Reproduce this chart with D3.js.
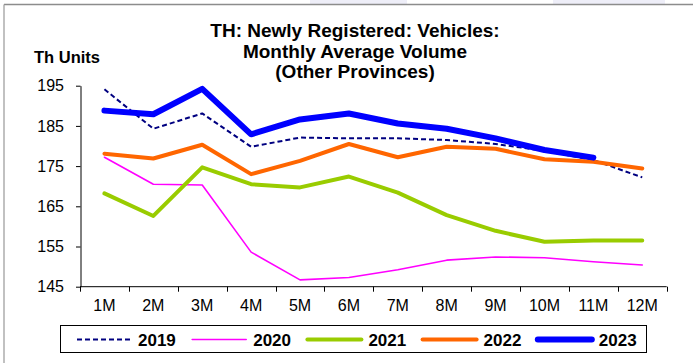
<!DOCTYPE html>
<html>
<head>
<meta charset="utf-8">
<script src="https://cdn.jsdelivr.net/npm/d3@7/dist/d3.min.js"></script>
<style>
  html, body { margin: 0; padding: 0; background: #fff; }
  svg { display: block; font-family: "Liberation Sans", Arial, sans-serif; }
</style>
</head>
<body>
<svg id="chart" width="693" height="363"></svg>
<script>
// Monthly average volume of newly registered vehicles, other provinces (thousand units)
const months = ["1M","2M","3M","4M","5M","6M","7M","8M","9M","10M","11M","12M"];
const years = ["2019","2020","2021","2022","2023"];
const v2019 = [194.1, 184.3, 188.1, 179.8, 182.1, 181.9, 181.9, 181.5, 180.5, 178.8, 176.5, 172.2];
const v2020 = [177.2, 170.5, 170.3, 153.6, 146.7, 147.3, 149.2, 151.6, 152.4, 152.2, 151.2, 150.4];
const v2021 = [168.2, 162.6, 174.7, 170.5, 169.7, 172.4, 168.4, 162.8, 158.9, 156.2, 156.5, 156.5];
const v2022 = [178.1, 176.9, 180.3, 173.0, 176.3, 180.5, 177.2, 179.8, 179.3, 176.7, 176.1, 174.4];
const v2023 = [188.8, 187.9, 194.2, 182.9, 186.6, 188.1, 185.6, 184.3, 181.9, 179.0, 177.1, null];
const yTicks = [145, 155, 165, 175, 185, 195];

const seriesValues = [v2019, v2020, v2021, v2022, v2023];
const styles = [
  { color: "#000080", width: 2,   dash: "5,3" },
  { color: "#ff00ff", width: 1.6, dash: null },
  { color: "#99cc00", width: 4,   dash: null },
  { color: "#ff6600", width: 4,   dash: null },
  { color: "#0000ff", width: 6,   dash: null }
];

const svg = d3.select("#chart");

// faint backdrop shapes along the top edge
svg.append("rect").attr("x", 310).attr("y", 0).attr("width", 97).attr("height", 4).attr("fill", "#eeeef8");
svg.append("rect").attr("x", 553).attr("y", 0).attr("width", 112).attr("height", 4).attr("fill", "#eeeef8");

// outer frame (top and left edges)
svg.append("line").attr("x1", 4).attr("x2", 693).attr("y1", 4.5).attr("y2", 4.5)
  .attr("stroke", "#8c8c8c").attr("stroke-width", 1.3);
svg.append("line").attr("x1", 4).attr("x2", 4).attr("y1", 4.5).attr("y2", 363)
  .attr("stroke", "#a0a0a0").attr("stroke-width", 1.3);

const x = d3.scaleBand().domain(months).range([80, 666.7]);
const y = d3.scaleLinear().domain([145, 195]).range([286.7, 85.7]);

// title
const title = svg.append("text").attr("text-anchor", "middle")
  .attr("font-weight", "bold").attr("font-size", 19).attr("fill", "#000");
["TH: Newly Registered: Vehicles:", "Monthly Average Volume", "(Other Provinces)"]
  .forEach((t, i) => title.append("tspan").attr("x", 355).attr("y", 37 + i * 20.5).text(t));

svg.append("text").attr("x", 34).attr("y", 63).attr("font-weight", "bold")
  .attr("font-size", 16.5).text("Th Units");

// y axis
const yAxis = svg.append("g").attr("transform", "translate(80.5,0)")
  .call(d3.axisLeft(y).tickValues(yTicks).tickSize(4.5).tickSizeOuter(0).tickPadding(12));
yAxis.select(".domain").attr("stroke", "#000").attr("stroke-width", 1);
yAxis.selectAll(".tick line").attr("stroke", "#000");
yAxis.selectAll(".tick text").attr("font-size", 16).attr("font-family", "Liberation Sans, Arial, sans-serif").attr("fill", "#000");

// x axis with ticks on category boundaries
const xAxis = svg.append("g").attr("transform", "translate(0,286.7)");
xAxis.append("line").attr("x1", 80).attr("x2", 666.7).attr("y1", 0).attr("y2", 0)
  .attr("stroke", "#000").attr("stroke-width", 1);
const bounds = months.map(m => x(m)).concat([x.range()[1]]);
xAxis.selectAll("line.tk").data(bounds).join("line").attr("class", "tk")
  .attr("x1", d => Math.round(d) + 0.5).attr("x2", d => Math.round(d) + 0.5)
  .attr("y1", 0).attr("y2", 5).attr("stroke", "#000");
xAxis.selectAll("text").data(months).join("text")
  .attr("x", d => x(d) + x.bandwidth() / 2).attr("y", 24.5)
  .attr("text-anchor", "middle").attr("font-size", 16).text(d => d);

// series lines
const line = d3.line()
  .defined(d => d.v != null)
  .x(d => x(d.m) + x.bandwidth() / 2)
  .y(d => y(d.v));

seriesValues.forEach((vals, i) => {
  const st = styles[i];
  svg.append("path")
    .datum(months.map((m, j) => ({ m, v: vals[j] })))
    .attr("d", line)
    .attr("fill", "none")
    .attr("stroke", st.color)
    .attr("stroke-width", st.width)
    .attr("stroke-linejoin", "round")
    .attr("stroke-linecap", st.dash ? "butt" : "round")
    .attr("stroke-dasharray", st.dash);
});

// legend
const lg = svg.append("g");
lg.append("rect").attr("x", 60.5).attr("y", 325.5).attr("width", 586).attr("height", 27)
  .attr("fill", "#fff").attr("stroke", "#000").attr("stroke-width", 1);
years.forEach((yr, i) => {
  const st = styles[i];
  const x0 = 77 + i * 115.2;
  lg.append("line").attr("x1", x0).attr("x2", x0 + 54).attr("y1", 339.5).attr("y2", 339.5)
    .attr("stroke", st.color).attr("stroke-width", st.width)
    .attr("stroke-linecap", st.dash ? "butt" : "round")
    .attr("stroke-dasharray", st.dash);
  lg.append("text").attr("x", x0 + 61).attr("y", 345.5).attr("font-weight", "bold")
    .attr("font-size", 17).text(yr);
});
</script>
</body>
</html>
